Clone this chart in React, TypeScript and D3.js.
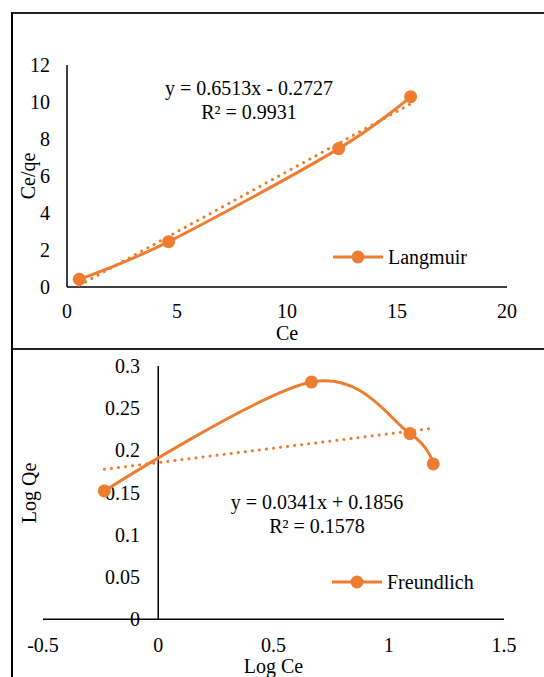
import * as d3 from "d3";

// Langmuir
const langmuirCe = [0.56, 4.62, 12.35, 15.62];
const langmuirCeQe = [0.42, 2.45, 7.48, 10.29];
const langmuirFit = { slope: 0.6513, intercept: -0.2727 };
const langmuirEq = ["y = 0.6513x - 0.2727", "R² = 0.9931"];
const langmuirXTicks = [0, 5, 10, 15, 20];
const langmuirYTicks = [0, 2, 4, 6, 8, 10, 12];

// Freundlich
const freundLogCe = [-0.234, 0.665, 1.092, 1.193];
const freundLogQe = [0.152, 0.281, 0.22, 0.184];
const freundFit = { slope: 0.0341, intercept: 0.1856 };
const freundEq = ["y = 0.0341x + 0.1856", "R² = 0.1578"];
const freundXTicks = [-0.5, 0, 0.5, 1, 1.5];
const freundYTicks = [0, 0.05, 0.1, 0.15, 0.2, 0.25, 0.3];

const orange = "#ED7D31";
const font = "Liberation Serif, Times New Roman, serif";

function Panel({ xs, ys, fit, eq, xTicks, yTicks, xDomain, yDomain, xRange, yRange,
  yLabelX, xLabelY, xTitle, xTitleY, yTitle, yTitlePos, eqPos, legendPos, legendName }: any) {
  const x = d3.scaleLinear().domain(xDomain).range(xRange);
  const y = d3.scaleLinear().domain(yDomain).range(yRange);
  const pts = xs.map((v: number, i: number) => [v, ys[i]]);
  const line = d3.line<number[]>()
    .x(d => x(d[0]))
    .y(d => y(d[1]))
    .curve(d3.curveCatmullRom.alpha(0));
  const x0 = d3.min(xs) as number;
  const x1 = d3.max(xs) as number;
  const fmt = (v: number) => String(v);
  return (
    <g style={{ fontFamily: font }} fontSize={20} fill="#000">
      {/* axes */}
      <line x1={x(0)} x2={x(0)} y1={yRange[1]} y2={y(0)} stroke="#000" strokeWidth={1.5} />
      <line x1={xRange[0]} x2={xRange[1]} y1={y(0)} y2={y(0)} stroke="#000" strokeWidth={1.5} />
      {yTicks.map((t: number) => (
        <text key={"y" + t} x={yLabelX} y={y(t)} textAnchor="end" dominantBaseline="central">{fmt(t)}</text>
      ))}
      {xTicks.map((t: number) => (
        <text key={"x" + t} x={x(t)} y={xLabelY} textAnchor="middle">{fmt(t)}</text>
      ))}
      <text x={(xRange[0] + xRange[1]) / 2} y={xTitleY} textAnchor="middle">{xTitle}</text>
      <text transform={`translate(${yTitlePos[0]},${yTitlePos[1]}) rotate(-90)`} textAnchor="middle" dominantBaseline="central">{yTitle}</text>
      {/* trendline */}
      <line x1={x(x0)} y1={y(fit.slope * x0 + fit.intercept)} x2={x(x1)} y2={y(fit.slope * x1 + fit.intercept)}
        stroke={orange} strokeWidth={3} strokeLinecap="round" strokeDasharray="0.1 7" />
      {/* series */}
      <path d={line(pts) || ""} fill="none" stroke={orange} strokeWidth={3} />
      {pts.map((p: number[], i: number) => (
        <circle key={i} cx={x(p[0])} cy={y(p[1])} r={6.5} fill={orange} />
      ))}
      <text x={eqPos[0]} y={eqPos[1]} textAnchor="middle">{eq[0]}</text>
      <text x={eqPos[0]} y={eqPos[1] + 24} textAnchor="middle">{eq[1]}</text>
      {/* legend */}
      <line x1={legendPos[0]} x2={legendPos[0] + 50} y1={legendPos[1]} y2={legendPos[1]} stroke={orange} strokeWidth={3} />
      <circle cx={legendPos[0] + 25} cy={legendPos[1]} r={6.5} fill={orange} />
      <text x={legendPos[0] + 55} y={legendPos[1]} dominantBaseline="central">{legendName}</text>
    </g>
  );
}

export default function App() {
  return (
    <svg width={544} height={677} style={{ position: "absolute", left: 0, top: 0, background: "#fff" }}>
      <rect x={0} y={0} width={544} height={677} fill="#fff" />
      <Panel xs={langmuirCe} ys={langmuirCeQe} fit={langmuirFit} eq={langmuirEq}
        xTicks={langmuirXTicks} yTicks={langmuirYTicks}
        xDomain={[0, 20]} yDomain={[0, 12]} xRange={[67, 507]} yRange={[287, 65]}
        yLabelX={50} xLabelY={318} xTitle="Ce" xTitleY={340} yTitle="Ce/qe" yTitlePos={[28, 176]}
        eqPos={[249, 95]} legendPos={[333, 257]} legendName="Langmuir" />
      <Panel xs={freundLogCe} ys={freundLogQe} fit={freundFit} eq={freundEq}
        xTicks={freundXTicks} yTicks={freundYTicks}
        xDomain={[-0.5, 1.5]} yDomain={[0, 0.3]} xRange={[43, 504]} yRange={[619.3, 366]}
        yLabelX={140} xLabelY={652} xTitle="Log Ce" xTitleY={673} yTitle="Log Qe" yTitlePos={[29, 493]}
        eqPos={[317, 509]} legendPos={[332, 582]} legendName="Freundlich" />
      {/* panel borders */}
      <line x1={12} x2={544} y1={13} y2={13} stroke="#222" strokeWidth={2} />
      <line x1={12} x2={544} y1={349} y2={349} stroke="#222" strokeWidth={2} />
      <line x1={12} x2={12} y1={12} y2={677} stroke="#000" strokeWidth={2} />
    </svg>
  );
}
